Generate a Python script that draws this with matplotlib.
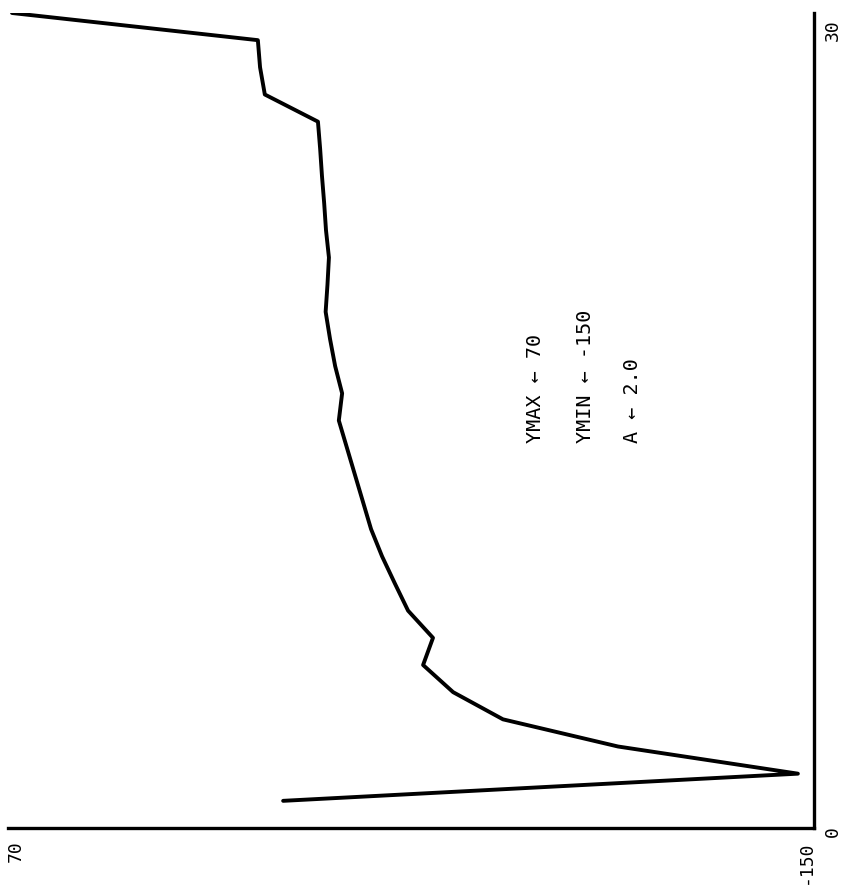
import matplotlib
matplotlib.use("Agg")
import matplotlib.pyplot as plt

# Data read from the (rotated) reference plot
x_values = [1, 2, 3, 4, 5, 6, 7, 8, 9, 10, 11, 12, 13, 14, 15,
            16, 17, 18, 19, 20, 21, 22, 23, 24, 25, 26, 27, 28, 29, 30]
y_values = [-5.1, -145.6, -96.5, -65.1, -51.5, -43.3, -46.0, -39.2, -35.6, -32.1,
            -29.1, -26.9, -24.7, -22.5, -20.3, -21.2, -19.3, -17.9, -16.7, -17.2,
            -17.6, -16.8, -16.3, -15.7, -15.2, -14.6, -0.1, 1.2, 1.8, 68.9]
y_ticks = [70, -150]
y_tick_labels = ["70", "-150"]
x_ticks = [0, 30]
x_tick_labels = ["0", "30"]
notes = ["YMAX \u2190 70", "YMIN \u2190 -150", "A \u2190 2.0"]

W, H = 843, 896
fig = plt.figure(figsize=(W / 100, H / 100), dpi=100)
left_px, right_px, bottom_px, top_px = 8, 814, 828, 13
ax = fig.add_axes([left_px / W, (H - bottom_px) / H,
                   (right_px - left_px) / W, (bottom_px - top_px) / H])

font = "DejaVu Sans Mono"

# Plot rotated: value on horizontal axis (inverted), x on vertical axis
ax.plot(y_values, x_values, color="black", lw=2.8, solid_joinstyle="round",
        solid_capstyle="round")
ax.set_xlim(y_ticks[0], y_ticks[1])
ax.set_ylim(x_ticks[0], x_ticks[1])

for s in ["top", "left"]:
    ax.spines[s].set_visible(False)
for s in ["bottom", "right"]:
    ax.spines[s].set_linewidth(2.4)
    ax.spines[s].set_color("black")
ax.set_xticks([])
ax.set_yticks([])

# Value-axis labels (below the horizontal line, rotated)
ax.annotate(y_tick_labels[0], xy=(y_ticks[0], x_ticks[0]), xytext=(8, -12),
            textcoords="offset pixels", rotation=90, ha="center", va="top",
            fontsize=13, family=font, annotation_clip=False)
ax.annotate(y_tick_labels[1], xy=(y_ticks[1], x_ticks[0]), xytext=(-8, -12),
            textcoords="offset pixels", rotation=90, ha="center", va="top",
            fontsize=13, family=font, annotation_clip=False)
# x-axis labels (right of the vertical line, rotated)
ax.annotate(x_tick_labels[0], xy=(y_ticks[1], x_ticks[0]), xytext=(10, -4),
            textcoords="offset pixels", rotation=90, ha="left", va="center",
            fontsize=13, family=font, annotation_clip=False)
ax.annotate(x_tick_labels[1], xy=(y_ticks[1], x_ticks[1]), xytext=(10, -6),
            textcoords="offset pixels", rotation=90, ha="left", va="top",
            fontsize=13, family=font, annotation_clip=False)

# Annotations
note_x = [0.654, 0.716, 0.775]
for nx, t in zip(note_x, notes):
    ax.text(nx, 0.472, t, transform=ax.transAxes, rotation=90, ha="center",
            va="bottom", fontsize=14.5, family=font)

fig.savefig("out.png", dpi=100)
